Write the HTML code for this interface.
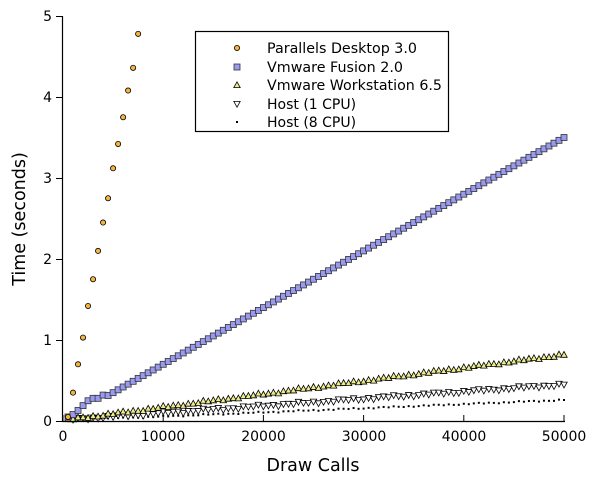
<!DOCTYPE html>
<html><head><style>body{margin:0;background:#fff}svg{display:block;font-family:"DejaVu Sans","Liberation Sans",sans-serif}</style></head>
<body>
<svg id="s" width="600" height="482" xmlns="http://www.w3.org/2000/svg">
<rect width="600" height="482" fill="#fff"/>
<g id="d"></g>
<line x1="62.5" y1="16" x2="62.5" y2="421.5" stroke="#000" stroke-width="1.2"/>
<line x1="62" y1="421.5" x2="565" y2="421.5" stroke="#000" stroke-width="1.2"/>
<g id="ax" stroke="#000" stroke-width="1"></g>
<g font-size="14" text-anchor="end" fill="#000">
<text x="52" y="426">0</text><text x="52" y="345">1</text><text x="52" y="264">2</text><text x="52" y="183">3</text><text x="52" y="102">4</text><text x="52" y="21">5</text>
</g>
<g font-size="14" text-anchor="middle" fill="#000">
<text x="63" y="441">0</text><text x="163" y="441">10000</text><text x="263.5" y="441">20000</text><text x="364" y="441">30000</text><text x="464" y="441">40000</text><text x="564" y="441">50000</text>
</g>
<text x="313" y="471" font-size="17.5" text-anchor="middle">Draw Calls</text>
<text transform="translate(25,219) rotate(-90)" font-size="17.5" text-anchor="middle">Time (seconds)</text>
<rect x="195.5" y="31.5" width="253" height="100" fill="#fff" stroke="#000" stroke-width="1.2"/>
<g font-size="14">
<text x="267" y="53" textLength="150" lengthAdjust="spacingAndGlyphs">Parallels Desktop 3.0</text>
<text x="267" y="72" textLength="136" lengthAdjust="spacingAndGlyphs">Vmware Fusion 2.0</text>
<text x="267" y="90" textLength="175" lengthAdjust="spacingAndGlyphs">Vmware Workstation 6.5</text>
<text x="267" y="109">Host (1 CPU)</text>
<text x="267" y="127">Host (8 CPU)</text>
</g>
<g id="lg"></g>
</svg>
<script>
var NS="http://www.w3.org/2000/svg",d=document.getElementById('d'),ax=document.getElementById('ax'),lg=document.getElementById('lg');
function X(v){return 63+v*(501/50000)}function Y(v){return 421-v*81}
function el(t,a,p){var e=document.createElementNS(NS,t);for(var k in a)e.setAttribute(k,a[k]);(p||d).appendChild(e);return e}
for(var i=0;i<=5;i++)el('line',{x1:56,x2:62,y1:Y(i)+.5,y2:Y(i)+.5},ax);
for(var i=0;i<=5;i++)el('line',{x1:X(i*10000),x2:X(i*10000),y1:421,y2:415},ax);
function circ(x,y,p){el('circle',{cx:x,cy:y,r:2.6,fill:'#f5b342',stroke:'#000','stroke-width':.8},p)}
function sq(x,y,p){el('rect',{x:x-3,y:y-3,width:6,height:6,fill:'#9a9af0',stroke:'#333','stroke-width':.8},p)}
function tu(x,y,p){el('polygon',{points:(x-3.2)+','+(y+2.6)+' '+(x+3.2)+','+(y+2.6)+' '+x+','+(y-3.2),fill:'#eeee88',stroke:'#000','stroke-width':.8},p)}
function td(x,y,p){el('polygon',{points:(x-3.2)+','+(y-2.6)+' '+(x+3.2)+','+(y-2.6)+' '+x+','+(y+3.2),fill:'#fff',stroke:'#000','stroke-width':.8},p)}
function dot(x,y,p){el('rect',{x:x-1,y:y-1,width:2,height:2,fill:'#000'},p)}
var par=[0.05,0.35,0.7,1.03,1.42,1.75,2.1,2.45,2.75,3.12,3.42,3.75,4.08,4.36,4.78];
function n(i,a){return a*Math.sin(i*2.3)+a*0.6*Math.sin(i*0.7)}
for(var i=1;i<=100;i++){var v=i*500,x=X(v);dot(x,Y(0.005+v/50000*0.255+n(i,0.006)))}
for(var i=1;i<=100;i++){var v=i*500,x=X(v);td(x,Y(0.01+v/50000*0.44+n(i,0.012)))}
for(var i=1;i<=100;i++){var v=i*500,x=X(v);tu(x,Y(0.01+v/50000*0.81+n(i,0.01)))}
var fu=[0.05,0.08,0.13,0.19,0.25,0.28,0.28,0.32];
for(var i=1;i<=100;i++){var v=i*500,x=X(v);sq(x,Y(i<=8?fu[i-1]:0.28+(v-4000)/46000*3.22))}
for(var i=0;i<par.length;i++)circ(X((i+1)*500),Y(par[i]));
circ(237,48,lg);sq(237,67,lg);tu(237,85,lg);td(237,104,lg);dot(237,122,lg);
</script>
</body></html>
